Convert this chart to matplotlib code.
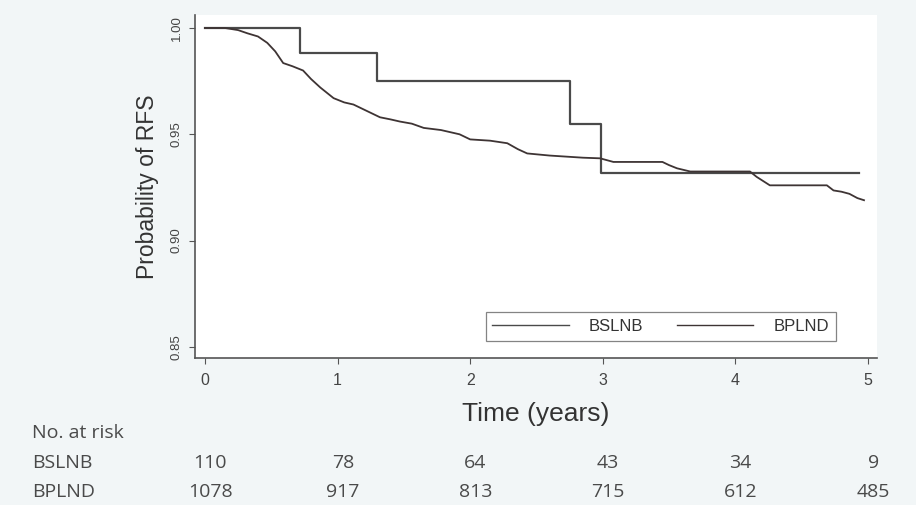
import numpy as np
import matplotlib
matplotlib.use("Agg")
import matplotlib.pyplot as plt
import matplotlib.transforms as mtransforms

# Kaplan-Meier step points
bslnb_t = [0, 0.72, 1.30, 2.75, 2.99, 4.93]
bslnb_s = [1.000, 0.988, 0.975, 0.955, 0.932, 0.932]

# BPLND has many small steps, traced as a polyline
bplnd_t = [0, 0.15, 0.25, 0.32, 0.40, 0.47, 0.53, 0.59, 0.66, 0.74, 0.80, 0.87,
           0.93, 0.97, 1.05, 1.12, 1.22, 1.32, 1.40, 1.47, 1.56, 1.65, 1.78,
           1.92, 2.00, 2.15, 2.28, 2.36, 2.43, 2.60, 2.85, 2.98, 3.08, 3.45,
           3.50, 3.56, 3.66, 4.11, 4.16, 4.21, 4.26, 4.69, 4.74, 4.80, 4.86,
           4.92, 4.97]
bplnd_s = [1.000, 1.000, 0.999, 0.9975, 0.996, 0.993, 0.989, 0.9835, 0.982,
           0.980, 0.976, 0.972, 0.969, 0.967, 0.965, 0.964, 0.961, 0.958,
           0.957, 0.956, 0.955, 0.953, 0.952, 0.950, 0.9476, 0.947, 0.9458,
           0.943, 0.941, 0.940, 0.939, 0.9387, 0.937, 0.937, 0.9355, 0.934,
           0.9325, 0.9325, 0.930, 0.928, 0.926, 0.926, 0.9236, 0.923, 0.922,
           0.920, 0.919]

risk_times = [0, 1, 2, 3, 4, 5]
risk_bslnb = [110, 78, 64, 43, 34, 9]
risk_bplnd = [1078, 917, 813, 715, 612, 485]

xticks = [0, 1, 2, 3, 4, 5]
yticks = [0.85, 0.90, 0.95, 1.00]

W, H = 916, 505
fig = plt.figure(figsize=(W / 100, H / 100), dpi=100, facecolor="#f2f6f7")
ax = fig.add_axes([195 / W, 1 - 358 / H, (877 - 195) / W, (358 - 15) / H])
ax.set_facecolor("white")

ax.step(bslnb_t, bslnb_s, where="post", color="#4a4a4a", lw=1.6, label="BSLNB")
ax.plot(bplnd_t, bplnd_s, color="#3e3434", lw=1.3, label="BPLND")

ax.set_xlim(-0.075, 5.068)
ax.set_ylim(0.8448, 1.0061)
for s in ["top", "right"]:
    ax.spines[s].set_visible(False)
for s in ["left", "bottom"]:
    ax.spines[s].set_color("#555555")
    ax.spines[s].set_linewidth(1.2)

ax.set_xticks(xticks)
ax.set_yticks(yticks)
ax.set_yticklabels([f"{v:.2f}" for v in yticks], rotation=90, va="center",
                   fontsize=9.5, color="#444444", family="Liberation Sans")
ax.set_xticklabels([str(v) for v in xticks], fontsize=11.5, color="#444444",
                   family="Liberation Sans")
ax.tick_params(axis="x", length=4, color="#555555", pad=7)
ax.tick_params(axis="y", length=4, color="#555555", pad=5)

ax.set_xlabel("Time (years)", fontsize=19, color="#333333",
              family="Liberation Sans", labelpad=10)
ax.set_ylabel("Probability of RFS", fontsize=16.5, color="#333333",
              family="Liberation Sans", labelpad=8)

leg = fig.legend(loc="center", bbox_to_anchor=(660.5 / W, 1 - 326.5 / H),
                 ncol=2, frameon=True, fancybox=False,
                 handlelength=4.6, handletextpad=1.2, columnspacing=2.0,
                 borderpad=0.4, prop={"family": "Liberation Sans", "size": 12})
leg.get_frame().set_edgecolor("#666666")
leg.get_frame().set_linewidth(0.9)
for txt in leg.get_texts():
    txt.set_color("#333333")
for ln in leg.get_lines():
    ln.set_linewidth(1.0)

# number at risk table
trans = mtransforms.blended_transform_factory(ax.transData, fig.transFigure)
tfont = dict(family="Open Sans", fontsize=14, color="#4a4a4a")
fig.text(32 / W, 1 - 433 / H, "No. at risk", ha="left", va="center", **tfont)
fig.text(32 / W, 1 - 463 / H, "BSLNB", ha="left", va="center", **tfont)
fig.text(32 / W, 1 - 492 / H, "BPLND", ha="left", va="center", **tfont)
for t, a, b in zip(risk_times, risk_bslnb, risk_bplnd):
    ax.text(t + 0.04, 1 - 463 / H, str(a), transform=trans, ha="center",
            va="center", **tfont)
    ax.text(t + 0.04, 1 - 492 / H, str(b), transform=trans, ha="center",
            va="center", **tfont)

fig.savefig("out.png", dpi=100, facecolor=fig.get_facecolor())
